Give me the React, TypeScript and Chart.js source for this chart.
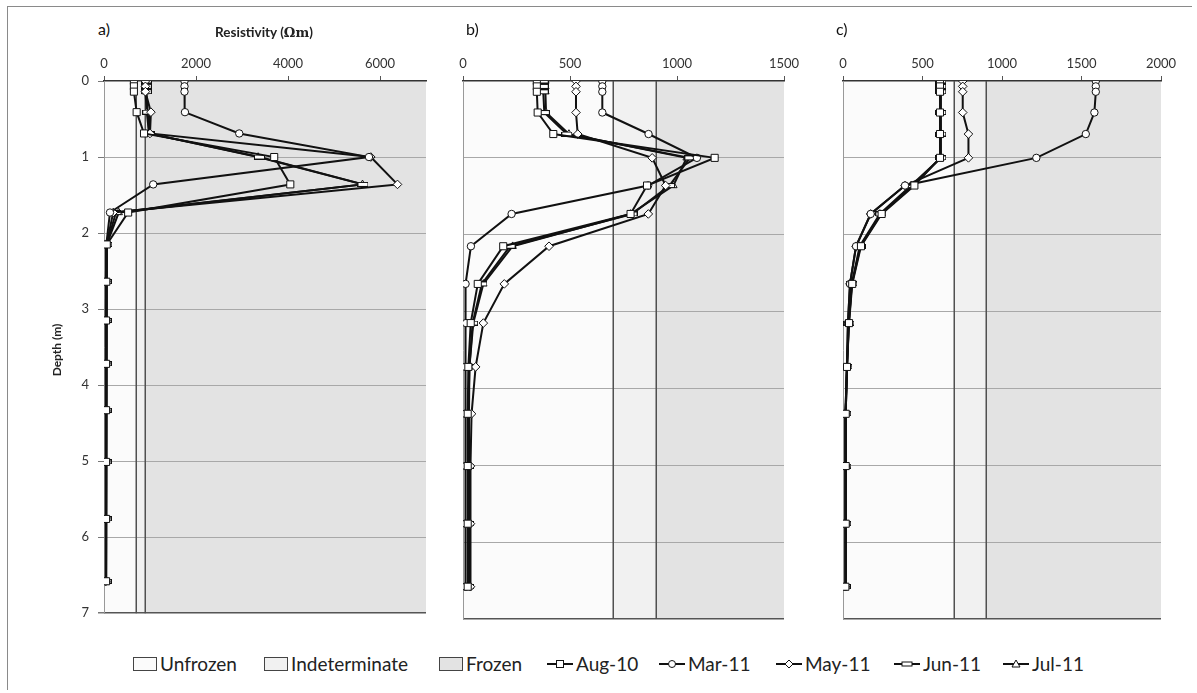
import React, { useEffect, useRef } from "react";
import { Chart, registerables } from "chart.js";

Chart.register(...registerables);

// ---------------- DATA ----------------
const depths = [0, 0.07, 0.14, 0.41, 0.69, 1.0, 1.36, 1.73, 2.15, 2.64, 3.15, 3.72, 4.33, 5.01, 5.76, 6.58];
const seriesNames = ["Aug-10", "Mar-11", "May-11", "Jun-11", "Jul-11"];
const zoneNames = ["Unfrozen", "Indeterminate", "Frozen"];
const zoneLimits = [700, 900];
const panelLabels = ["a)", "b)", "c)"];
const xMaxes = [7000, 1500, 2000];
const aTicks = [0, 2000, 4000, 6000];
const bTicks = [0, 500, 1000, 1500];
const cTicks = [0, 500, 1000, 1500, 2000];
const depthTicks = [0, 1, 2, 3, 4, 5, 6, 7];
const depthMax = 7;
const xTitle = "Resistivity (";
const xTitleUnit = "Ωm";
const yTitle = "Depth (m)";

// panel a)
const aAug10 = [650, 650, 650, 710, 870, 3700, 4050, 525, 60, 50, 45, 45, 45, 45, 45, 45];
const aMar11 = [1750, 1750, 1750, 1760, 2940, 5760, 1070, 130, 50, 40, 40, 40, 40, 40, 40, 40];
const aMay11 = [900, 900, 900, 1020, 1000, 5800, 6380, 200, 55, 45, 40, 40, 40, 40, 40, 40];
const aJun11 = [920, 920, 920, 950, 980, 3380, 5630, 260, 60, 50, 45, 45, 45, 45, 45, 45];
const aJul11 = [900, 900, 900, 930, 980, 3350, 5620, 320, 60, 50, 45, 45, 45, 45, 45, 45];

// panel b)
const bAug10 = [345, 345, 345, 349, 422, 1176, 860, 783, 188, 69, 36, 25, 22, 22, 22, 22];
const bMar11 = [651, 651, 651, 651, 867, 1093, 865, 227, 37, 12, 14, 10, 10, 12, 12, 12];
const bMay11 = [528, 528, 528, 528, 536, 884, 947, 866, 402, 193, 95, 59, 40, 35, 35, 35];
const bJun11 = [375, 375, 375, 380, 485, 1060, 965, 790, 220, 88, 45, 30, 25, 25, 25, 25];
const bJul11 = [385, 385, 385, 388, 495, 1045, 983, 783, 232, 95, 48, 30, 28, 28, 28, 28];

// panel c)
const cAug10 = [610, 610, 610, 610, 610, 610, 449, 243, 113, 58, 38, 25, 17, 17, 17, 15];
const cMar11 = [1590, 1590, 1590, 1581, 1527, 1216, 390, 174, 82, 44, 31, 25, 15, 17, 17, 15];
const cMay11 = [753, 753, 753, 753, 789, 789, 390, 174, 82, 44, 31, 25, 15, 17, 17, 15];
const cJun11 = [615, 615, 615, 615, 615, 615, 440, 238, 110, 56, 37, 25, 17, 17, 17, 15];
const cJul11 = [615, 615, 615, 615, 615, 615, 428, 232, 105, 55, 36, 25, 17, 17, 17, 15];

const panelSeries = [
  [aAug10, aMar11, aMay11, aJun11, aJul11],
  [bAug10, bMar11, bMay11, bJun11, bJul11],
  [cAug10, cMar11, cMay11, cJun11, cJul11],
];
const panelTicks = [aTicks, bTicks, cTicks];

// ---------------- STYLE / LAYOUT ----------------
const FONT = "Lato, 'Open Sans', sans-serif";
const zoneColors = ["#fbfbfb", "#f1f1f1", "#e3e3e3"];
const markerKinds = ["square", "circle", "diamond", "dash", "triangle"];
const markerRadius = [5, 3.7, 4.3, 5, 4.3];
const panelLayout = [
  { left: 20, width: 426, yAxisWidth: 84, showY: true, labelLeft: 98 },
  { left: 443, width: 361, yAxisWidth: 20, showY: false, labelLeft: 466 },
  { left: 823, width: 358, yAxisWidth: 20, showY: false, labelLeft: 836 },
];
const CANVAS_TOP = 40;
const CANVAS_H = 590;
const legendX = [133, 264, 439, 547, 659, 776, 894, 1003];

const zonePlugin = {
  id: "zones",
  beforeDraw(chart: any) {
    const { ctx, chartArea, scales } = chart;
    const x = scales.x;
    const bounds = [x.min, ...zoneLimits, x.max];
    ctx.save();
    for (let i = 0; i < zoneColors.length; i++) {
      const x0 = x.getPixelForValue(bounds[i]);
      const x1 = x.getPixelForValue(bounds[i + 1]);
      ctx.fillStyle = zoneColors[i];
      ctx.fillRect(x0, chartArea.top, x1 - x0, chartArea.bottom - chartArea.top);
    }
    ctx.restore();
  },
  beforeDatasetsDraw(chart: any) {
    const { ctx, chartArea, scales } = chart;
    ctx.save();
    ctx.strokeStyle = "#505050";
    ctx.lineWidth = 1.5;
    zoneLimits.forEach((v) => {
      const px = Math.round(scales.x.getPixelForValue(v)) + 0.25;
      ctx.beginPath();
      ctx.moveTo(px, chartArea.top);
      ctx.lineTo(px, chartArea.bottom);
      ctx.stroke();
    });
    ctx.restore();
  },
};

function makeDash(): HTMLCanvasElement {
  const c = document.createElement("canvas");
  c.width = 11;
  c.height = 5;
  const g = c.getContext("2d")!;
  g.fillStyle = "#fff";
  g.fillRect(0.5, 0.5, 10, 4);
  g.strokeStyle = "#111";
  g.lineWidth = 1;
  g.strokeRect(0.5, 0.5, 10, 4);
  return c;
}

function MarkerSvg({ kind }: { kind: string }) {
  const cx = 13, cy = 7;
  let m: any = null;
  if (kind === "square") m = <rect x={cx - 3.5} y={cy - 3.5} width={7} height={7} fill="#fff" stroke="#111" />;
  if (kind === "circle") m = <circle cx={cx} cy={cy} r={3.5} fill="#fff" stroke="#111" />;
  if (kind === "diamond") m = <polygon points={`${cx},${cy - 4} ${cx + 4},${cy} ${cx},${cy + 4} ${cx - 4},${cy}`} fill="#fff" stroke="#111" />;
  if (kind === "dash") m = <rect x={cx - 5} y={cy - 2} width={10} height={4} fill="#fff" stroke="#111" />;
  if (kind === "triangle") m = <polygon points={`${cx},${cy - 4} ${cx + 4},${cy + 3} ${cx - 4},${cy + 3}`} fill="#fff" stroke="#111" />;
  return (
    <svg width={26} height={14} style={{ display: "block" }}>
      <line x1={0} y1={cy} x2={26} y2={cy} stroke="#111" strokeWidth={2} />
      {m}
    </svg>
  );
}

export default function App() {
  const refs = useRef<(HTMLCanvasElement | null)[]>([]);

  useEffect(() => {
    const dash = makeDash();
    const styleFor = (kind: string): any => {
      if (kind === "square") return "rect";
      if (kind === "circle") return "circle";
      if (kind === "diamond") return "rectRot";
      if (kind === "triangle") return "triangle";
      return dash;
    };
    const charts = panelSeries.map((series, p) => {
      const L = panelLayout[p];
      const canvas = refs.current[p]!;
      return new Chart(canvas, {
        type: "scatter",
        data: {
          datasets: series.map((vals, s) => ({
            label: seriesNames[s],
            data: vals.map((v, i) => ({ x: v, y: depths[i] })),
            showLine: true,
            borderColor: "#111",
            borderWidth: 2,
            pointStyle: styleFor(markerKinds[s]),
            pointRadius: markerRadius[s],
            pointBackgroundColor: "#fff",
            pointBorderColor: "#111",
            pointBorderWidth: 1,
          })),
        } as any,
        options: {
          responsive: false,
          animation: false,
          devicePixelRatio: 1,
          events: [],
          layout: { padding: { top: 0, left: 0, right: 20, bottom: 11 } },
          plugins: { legend: { display: false }, tooltip: { enabled: false } },
          scales: {
            x: {
              type: "linear",
              position: "top",
              min: 0,
              max: xMaxes[p],
              afterBuildTicks: (s: any) => {
                s.ticks = panelTicks[p].map((v) => ({ value: v }));
              },
              ticks: {
                color: "#333",
                font: { family: FONT, size: 13 },
                padding: 4,
                maxRotation: 0,
                autoSkip: false,
                callback: (v: any) => String(v),
              },
              grid: { drawOnChartArea: false, drawTicks: true, tickLength: 5, tickColor: "#555" },
              border: { color: "#333", width: 1.5 },
              afterFit: (s: any) => {
                s.height = 41;
              },
            },
            y: {
              type: "linear",
              position: "left",
              reverse: true,
              min: 0,
              max: depthMax,
              afterBuildTicks: (s: any) => {
                s.ticks = depthTicks.map((v) => ({ value: v }));
              },
              ticks: {
                display: L.showY,
                color: "#333",
                font: { family: FONT, size: 13 },
                padding: 9,
                autoSkip: false,
                callback: (v: any) => String(v),
              },
              grid: {
                color: (c: any) =>
                  c.tick && c.tick.value === depthMax ? "#555" : c.tick && c.tick.value === 0 ? "rgba(0,0,0,0)" : "#a8a8a8",
                lineWidth: (c: any) => (c.tick && c.tick.value === depthMax ? 1.5 : 1),
                drawTicks: L.showY,
                tickLength: 6,
                tickColor: "#777",
              },
              border: { color: "#999", width: 1 },
              afterFit: (s: any) => {
                s.width = L.yAxisWidth;
              },
            },
          },
        } as any,
        plugins: [zonePlugin],
      });
    });
    return () => charts.forEach((c) => c.destroy());
  }, []);

  const legendItems: { label: string; node: any }[] = [
    ...zoneNames.map((z, i) => ({
      label: z,
      node: (
        <svg width={24} height={14} style={{ display: "block" }}>
          <rect x={0.5} y={0.5} width={23} height={13} fill={zoneColors[i]} stroke="#444" />
        </svg>
      ),
    })),
    ...seriesNames.map((n, i) => ({ label: n, node: <MarkerSvg kind={markerKinds[i]} /> })),
  ];

  return (
    <div style={{ position: "absolute", left: 0, top: 0, width: 1197, height: 693, background: "#fff", fontFamily: FONT }}>
      <div
        style={{
          position: "absolute",
          left: 7,
          top: 6,
          width: 1185,
          height: 684,
          boxSizing: "border-box",
          borderTop: "1px solid #8a8a8a",
          borderLeft: "1px solid #8a8a8a",
        }}
      />
      {panelLayout.map((L, p) => (
        <canvas
          key={p}
          ref={(el) => {
            refs.current[p] = el;
          }}
          width={L.width}
          height={CANVAS_H}
          style={{ position: "absolute", left: L.left, top: CANVAS_TOP, width: L.width, height: CANVAS_H }}
        />
      ))}
      {panelLayout.map((L, p) => (
        <div key={"lab" + p} style={{ position: "absolute", left: L.labelLeft, top: 19, fontSize: 16, lineHeight: "20px", color: "#111" }}>
          {panelLabels[p]}
        </div>
      ))}
      <div
        style={{
          position: "absolute",
          left: 164,
          width: 200,
          top: 23,
          textAlign: "center",
          fontSize: 13.5,
          lineHeight: "18px",
          fontWeight: 700,
          color: "#222",
          whiteSpace: "nowrap",
        }}
      >
        {xTitle}
        <span style={{ fontFamily: "'DejaVu Serif', 'Liberation Serif', serif", fontSize: 13 }}>{xTitleUnit}</span>)
      </div>
      <div
        style={{
          position: "absolute",
          left: 57 - 50,
          top: 350 - 9,
          width: 100,
          height: 18,
          lineHeight: "18px",
          textAlign: "center",
          fontSize: 12,
          fontWeight: 700,
          color: "#222",
          transform: "rotate(-90deg)",
          whiteSpace: "nowrap",
        }}
      >
        {yTitle}
      </div>
      {legendItems.map((it, i) => (
        <div
          key={"lg" + i}
          style={{
            position: "absolute",
            left: legendX[i],
            top: 652,
            height: 24,
            display: "flex",
            alignItems: "center",
            gap: 3,
            fontSize: 19,
            lineHeight: "24px",
            color: "#222",
            whiteSpace: "nowrap",
          }}
        >
          {it.node}
          <span>{it.label}</span>
        </div>
      ))}
    </div>
  );
}
